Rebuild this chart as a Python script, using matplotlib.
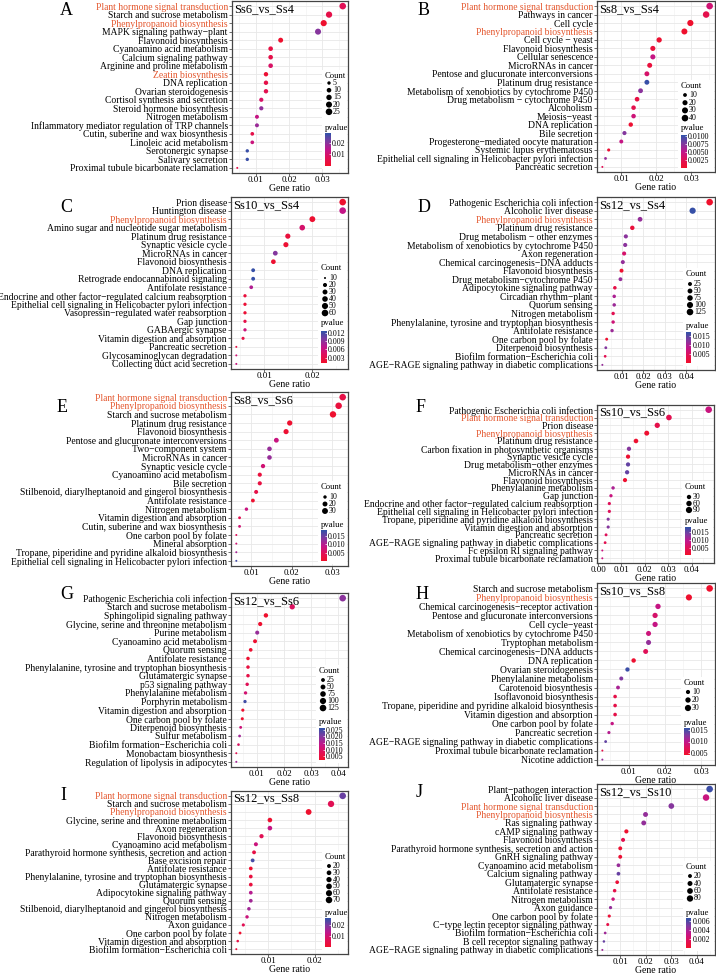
import numpy as np
import matplotlib
matplotlib.use('Agg')
import matplotlib.pyplot as plt
from matplotlib.colors import LinearSegmentedColormap

plt.rcParams['font.family'] = 'serif'
plt.rcParams['font.serif'] = ['Liberation Serif', 'DejaVu Serif']

W, H = 716, 974

# ---------------- data ----------------
A_terms = ["Plant hormone signal transduction", "Starch and sucrose metabolism", "Phenylpropanoid biosynthesis",
           "MAPK signaling pathway\u2212plant", "Flavonoid biosynthesis", "Cyanoamino acid metabolism",
           "Calcium signaling pathway", "Arginine and proline metabolism", "Zeatin biosynthesis", "DNA replication",
           "Ovarian steroidogenesis", "Cortisol synthesis and secretion", "Steroid hormone biosynthesis",
           "Nitrogen metabolism", "Inflammatory mediator regulation of TRP channels",
           "Cutin, suberine and wax biosynthesis", "Linoleic acid metabolism", "Serotonergic synapse",
           "Salivary secretion", "Proximal tubule bicarbonate reclamation"]
A_ratio = [0.0361, 0.0320, 0.0304, 0.0287, 0.0175, 0.0145, 0.0145, 0.0145, 0.0131, 0.0131,
           0.0131, 0.0117, 0.0117, 0.0104, 0.0104, 0.0090, 0.0090, 0.0075, 0.0075, 0.0045]
A_count = [25, 22, 21, 20, 12, 10, 10, 10, 9, 9, 9, 8, 8, 7, 7, 6, 6, 5, 5, 3]
A_p = [0.007, 0.005, 0.001, 0.020, 0.001, 0.004, 0.005, 0.009, 0.002, 0.005,
       0.006, 0.009, 0.019, 0.013, 0.018, 0.005, 0.012, 0.027, 0.027, 0.005]

B_terms = ["Plant hormone signal transduction", "Pathways in cancer", "Cell cycle", "Phenylpropanoid biosynthesis",
           "Cell cycle \u2212 yeast", "Flavonoid biosynthesis", "Cellular senescence", "MicroRNAs in cancer",
           "Pentose and glucuronate interconversions", "Platinum drug resistance",
           "Metabolism of xenobiotics by cytochrome P450", "Drug metabolism \u2212 cytochrome P450", "Alcoholism",
           "Meiosis\u2212yeast", "DNA replication", "Bile secretion", "Progesterone\u2212mediated oocyte maturation",
           "Systemic lupus erythematosus", "Epithelial cell signaling in Helicobacter pylori infection",
           "Pancreatic secretion"]
B_ratio = [0.0352, 0.0342, 0.0297, 0.0280, 0.0208, 0.0190, 0.0190, 0.0181, 0.0173, 0.0173,
           0.0155, 0.0145, 0.0135, 0.0135, 0.0127, 0.0109, 0.0100, 0.0064, 0.0055, 0.0046]
B_count = [38, 37, 32, 30, 22, 20, 20, 19, 18, 18, 17, 16, 15, 15, 14, 12, 11, 7, 6, 5]
B_p = [0.0040, 0.0020, 0.0003, 0.0003, 0.0005, 0.0010, 0.0048, 0.0012, 0.0035, 0.0100,
       0.0072, 0.0015, 0.0020, 0.0042, 0.0006, 0.0075, 0.0048, 0.0008, 0.0068, 0.0025]

C_terms = ["Prion disease", "Huntington disease", "Phenylpropanoid biosynthesis",
           "Amino sugar and nucleotide sugar metabolism", "Platinum drug resistance", "Synaptic vesicle cycle",
           "MicroRNAs in cancer", "Flavonoid biosynthesis", "DNA replication",
           "Retrograde endocannabinoid signaling", "Antifolate resistance",
           "Endocrine and other factor\u2212regulated calcium reabsorption",
           "Epithelial cell signaling in Helicobacter pylori infection",
           "Vasopressin\u2212regulated water reabsorption", "Gap junction", "GABAergic synapse",
           "Vitamin digestion and absorption", "Pancreatic secretion", "Glycosaminoglycan degradation",
           "Collecting duct acid secretion"]
C_ratio = [0.0263, 0.0263, 0.0200, 0.0179, 0.0149, 0.0145, 0.0123, 0.0119, 0.0077, 0.0077,
           0.0073, 0.0060, 0.0060, 0.0060, 0.0060, 0.0060, 0.0056, 0.0042, 0.0042, 0.0042]
C_count = [60, 60, 45, 41, 34, 33, 28, 27, 18, 18, 17, 14, 14, 14, 14, 14, 13, 10, 10, 10]
C_p = [0.0013, 0.0065, 0.0015, 0.0050, 0.0022, 0.0016, 0.0095, 0.0015, 0.0124, 0.0124,
       0.0075, 0.0022, 0.0018, 0.0018, 0.0030, 0.0058, 0.0028, 0.0028, 0.0055, 0.0060]

D_terms = ["Pathogenic Escherichia coli infection", "Alcoholic liver disease", "Phenylpropanoid biosynthesis",
           "Platinum drug resistance", "Drug metabolism \u2212 other enzymes",
           "Metabolism of xenobiotics by cytochrome P450", "Axon regeneration",
           "Chemical carcinogenesis\u2212DNA adducts", "Flavonoid biosynthesis",
           "Drug metabolism\u2212cytochrome P450", "Adipocytokine signaling pathway", "Circadian rhythm\u2212plant",
           "Quorum sensing", "Nitrogen metabolism", "Phenylalanine, tyrosine and tryptophan biosynthesis",
           "Antifolate resistance", "One carbon pool by folate", "Diterpenoid biosynthesis",
           "Biofilm formation\u2212Escherichia coli", "AGE\u2212RAGE signaling pathway in diabetic complications"]
D_ratio = [0.0509, 0.0430, 0.0186, 0.0150, 0.0120, 0.0117, 0.0112, 0.0106, 0.0100, 0.0095,
           0.0069, 0.0066, 0.0066, 0.0061, 0.0061, 0.0056, 0.0031, 0.0027, 0.0024, 0.0011]
D_count = [125, 106, 46, 37, 29, 29, 28, 26, 25, 23, 17, 16, 16, 15, 15, 14, 8, 7, 6, 3]
D_p = [0.0005, 0.0168, 0.0115, 0.0020, 0.0120, 0.0120, 0.0060, 0.0115, 0.0008, 0.0115,
       0.0030, 0.0100, 0.0110, 0.0040, 0.0070, 0.0110, 0.0010, 0.0125, 0.0040, 0.0115]

E_terms = ["Plant hormone signal transduction", "Phenylpropanoid biosynthesis", "Starch and sucrose metabolism",
           "Platinum drug resistance", "Flavonoid biosynthesis", "Pentose and glucuronate interconversions",
           "Two\u2212component system", "MicroRNAs in cancer", "Synaptic vesicle cycle",
           "Cyanoamino acid metabolism", "Bile secretion",
           "Stilbenoid, diarylheptanoid and gingerol biosynthesis", "Antifolate resistance",
           "Nitrogen metabolism", "Vitamin digestion and absorption", "Cutin, suberine and wax biosynthesis",
           "One carbon pool by folate", "Mineral absorption",
           "Tropane, piperidine and pyridine alkaloid biosynthesis",
           "Epithelial cell signaling in Helicobacter pylori infection"]
E_ratio = [0.0326, 0.0316, 0.0302, 0.0195, 0.0186, 0.0162, 0.0145, 0.0145, 0.0129, 0.0121,
           0.0121, 0.0112, 0.0104, 0.0088, 0.0071, 0.0071, 0.0063, 0.0063, 0.0063, 0.0063]
E_count = [39, 38, 36, 23, 22, 19, 17, 17, 15, 14, 14, 13, 12, 10, 8, 8, 7, 7, 7, 7]
E_p = [0.0030, 0.0020, 0.0008, 0.0008, 0.0010, 0.0080, 0.0120, 0.0120, 0.0070, 0.0020,
       0.0025, 0.0030, 0.0008, 0.0080, 0.0040, 0.0070, 0.0050, 0.0070, 0.0110, 0.0170]

F_terms = ["Pathogenic Escherichia coli infection", "Plant hormone signal transduction", "Prion disease",
           "Phenylpropanoid biosynthesis", "Platinum drug resistance",
           "Carbon fixation in photosynthetic organisms", "Synaptic vesicle cycle",
           "Drug metabolism\u2212other enzymes", "MicroRNAs in cancer", "Flavonoid biosynthesis",
           "Phenylalanine metabolism", "Gap junction",
           "Endocrine and other factor\u2212regulated calcium reabsorption",
           "Epithelial cell signaling in Helicobacter pylori infection",
           "Tropane, piperidine and pyridine alkaloid biosynthesis", "Vitamin digestion and absorption",
           "Pancreatic secretion", "AGE\u2212RAGE signaling pathway in diabetic complications",
           "Fc epsilon RI signaling pathway", "Proximal tubule bicarbonate reclamation"]
F_ratio = [0.0473, 0.0303, 0.0253, 0.0208, 0.0162, 0.0132, 0.0128, 0.0128, 0.0124, 0.0115,
           0.0064, 0.0055, 0.0048, 0.0048, 0.0043, 0.0043, 0.0034, 0.0030, 0.0018, 0.0018]
F_count = [105, 67, 56, 46, 36, 29, 28, 28, 28, 26, 14, 12, 11, 11, 10, 10, 8, 7, 4, 4]
F_p = [0.0080, 0.0040, 0.0035, 0.0010, 0.0010, 0.0130, 0.0012, 0.0150, 0.0150, 0.0010,
       0.0105, 0.0080, 0.0050, 0.0050, 0.0130, 0.0130, 0.0050, 0.0040, 0.0080, 0.0080]

G_terms = ["Pathogenic Escherichia coli infection", "Starch and sucrose metabolism",
           "Sphingolipid signaling pathway", "Glycine, serine and threonine metabolism", "Purine metabolism",
           "Cyanoamino acid metabolism", "Quorum sensing", "Antifolate resistance",
           "Phenylalanine, tyrosine and tryptophan biosynthesis", "Glutamatergic synapse",
           "p53 signaling pathway", "Phenylalanine metabolism", "Porphyrin metabolism",
           "Vitamin digestion and absorption", "One carbon pool by folate", "Diterpenoid biosynthesis",
           "Sulfur metabolism", "Biofilm formation\u2212Escherichia coli", "Monobactam biosynthesis",
           "Regulation of lipolysis in adipocytes"]
G_ratio = [0.0416, 0.0230, 0.0133, 0.0112, 0.0101, 0.0093, 0.0077, 0.0067, 0.0067, 0.0067,
           0.0064, 0.0058, 0.0056, 0.0048, 0.0046, 0.0040, 0.0036, 0.0032, 0.0024, 0.0024]
G_count = [119, 66, 38, 32, 29, 27, 22, 19, 19, 19, 18, 17, 16, 14, 13, 11, 10, 9, 7, 7]
G_p = [0.019, 0.009, 0.0025, 0.003, 0.018, 0.003, 0.003, 0.003, 0.005, 0.006,
       0.008, 0.011, 0.025, 0.003, 0.003, 0.012, 0.017, 0.009, 0.007, 0.017]

H_terms = ["Starch and sucrose metabolism", "Phenylpropanoid biosynthesis",
           "Chemical carcinogenesis\u2212receptor activation", "Pentose and glucuronate interconversions",
           "Cell cycle\u2212yeast", "Metabolism of xenobiotics by cytochrome P450", "Tryptophan metabolism",
           "Chemical carcinogenesis\u2212DNA adducts", "DNA replication", "Ovarian steroidogenesis",
           "Phenylalanine metabolism", "Carotenoid biosynthesis", "Isoflavonoid biosynthesis",
           "Tropane, piperidine and pyridine alkaloid biosynthesis", "Vitamin digestion and absorption",
           "One carbon pool by folate", "Pancreatic secretion",
           "AGE\u2212RAGE signaling pathway in diabetic complications",
           "Proximal tubule bicarbonate reclamation", "Nicotine addiction"]
H_ratio = [0.0323, 0.0266, 0.0181, 0.0173, 0.0173, 0.0155, 0.0155, 0.0147, 0.0114, 0.0097,
           0.0080, 0.0071, 0.0063, 0.0063, 0.0063, 0.0055, 0.0046, 0.0037, 0.0028, 0.0028]
H_count = [35, 29, 20, 19, 19, 17, 17, 16, 12, 11, 9, 8, 7, 7, 7, 6, 5, 4, 3, 3]
H_p = [0.0042, 0.0043, 0.0095, 0.0080, 0.0095, 0.0090, 0.0120, 0.0070, 0.0045, 0.0155,
       0.0128, 0.0110, 0.0060, 0.0060, 0.0060, 0.0095, 0.0105, 0.0140, 0.0060, 0.0120]

I_terms = ["Plant hormone signal transduction", "Starch and sucrose metabolism", "Phenylpropanoid biosynthesis",
           "Glycine, serine and threonine metabolism", "Axon regeneration", "Flavonoid biosynthesis",
           "Cyanoamino acid metabolism", "Parathyroid hormone synthesis, secretion and action",
           "Base excision repair", "Antifolate resistance",
           "Phenylalanine, tyrosine and tryptophan biosynthesis", "Glutamatergic synapse",
           "Adipocytokine signaling pathway", "Quorum sensing",
           "Stilbenoid, diarylheptanoid and gingerol biosynthesis", "Nitrogen metabolism", "Axon guidance",
           "One carbon pool by folate", "Vitamin digestion and absorption",
           "Biofilm formation\u2212Escherichia coli"]
I_ratio = [0.0260, 0.0235, 0.0187, 0.0104, 0.0104, 0.0086, 0.0074, 0.0070, 0.0067, 0.0063,
           0.0063, 0.0063, 0.0063, 0.0063, 0.0059, 0.0055, 0.0047, 0.0040, 0.0035, 0.0032]
I_count = [72, 65, 52, 29, 29, 24, 21, 19, 19, 18, 18, 18, 18, 18, 16, 15, 13, 11, 10, 9]
I_p = [0.021, 0.006, 0.0008, 0.001, 0.012, 0.006, 0.011, 0.004, 0.024, 0.001,
       0.003, 0.003, 0.014, 0.016, 0.016, 0.011, 0.006, 0.001, 0.004, 0.003]

J_terms = ["Plant\u2212pathogen interaction", "Alcoholic liver disease", "Plant hormone signal transduction",
           "Phenylpropanoid biosynthesis", "Ras signaling pathway", "cAMP signaling pathway",
           "Flavonoid biosynthesis", "Parathyroid hormone synthesis, secretion and action",
           "GnRH signaling pathway", "Cyanoamino acid metabolism", "Calcium signaling pathway",
           "Glutamatergic synapse", "Antifolate resistance", "Nitrogen metabolism", "Axon guidance",
           "One carbon pool by folate", "C\u2212type lectin receptor signaling pathway",
           "Biofilm formation\u2212Escherichia coli", "B cell receptor signaling pathway",
           "AGE\u2212RAGE signaling pathway in diabetic complications"]
J_ratio = [0.0450, 0.0436, 0.0300, 0.0199, 0.0192, 0.0124, 0.0111, 0.0100, 0.0100, 0.0093,
           0.0093, 0.0088, 0.0078, 0.0072, 0.0062, 0.0057, 0.0051, 0.0041, 0.0036, 0.0030]
J_count = [88, 85, 59, 39, 38, 24, 22, 20, 20, 18, 18, 17, 15, 14, 12, 11, 10, 8, 7, 6]
J_p = [0.0064, 0.0030, 0.0048, 0.0045, 0.0045, 0.0003, 0.0014, 0.0004, 0.0005, 0.0044,
       0.0055, 0.0006, 0.0012, 0.0028, 0.0045, 0.0006, 0.0012, 0.0042, 0.0055, 0.0042]

titles = ["Ss6_vs_Ss4", "Ss8_vs_Ss4", "Ss10_vs_Ss4", "Ss12_vs_Ss4", "Ss8_vs_Ss6",
          "Ss10_vs_Ss6", "Ss12_vs_Ss6", "Ss10_vs_Ss8", "Ss12_vs_Ss8", "Ss12_vs_Ss10"]
letters = list("ABCDEFGHIJ")
x_ticks = [[0.01, 0.02, 0.03], [0.01, 0.02, 0.03], [0.01, 0.02], [0.01, 0.02, 0.03, 0.04],
           [0.01, 0.02, 0.03], [0.00, 0.01, 0.02, 0.03, 0.04], [0.01, 0.02, 0.03, 0.04],
           [0.01, 0.02, 0.03], [0.01, 0.02], [0.01, 0.02, 0.03, 0.04]]
count_breaks = [[5, 10, 15, 20, 25], [10, 20, 30, 40], [10, 20, 30, 40, 50, 60], [25, 50, 75, 100, 125],
                [10, 20, 30], [30, 60, 90], [25, 50, 75, 100, 125], [10, 20, 30],
                [20, 30, 40, 50, 60, 70], [20, 40, 60, 80]]
p_limits = [(0.0003, 0.028), (0.0001, 0.0103), (0.001, 0.0127), (0.0003, 0.0172), (0.0001, 0.0183),
            (0.0004, 0.018), (0.002, 0.0265), (0.004, 0.016), (0.0001, 0.0259), (0.0001, 0.0067)]
p_ticks = [[0.01, 0.02], [0.0025, 0.0050, 0.0075, 0.0100], [0.003, 0.006, 0.009, 0.012],
           [0.005, 0.010, 0.015], [0.005, 0.010, 0.015], [0.005, 0.010, 0.015],
           [0.005, 0.010, 0.015, 0.020, 0.025], [0.005, 0.010, 0.015], [0.01, 0.02],
           [0.002, 0.004, 0.006]]
p_fmt = ['%.2f', '%.4f', '%.3f', '%.3f', '%.3f', '%.3f', '%.3f', '%.3f', '%.2f', '%.3f']
highlight = {"Plant hormone signal transduction", "Phenylpropanoid biosynthesis", "Zeatin biosynthesis"}

# ---------------- layout (pixels) ----------------
boxes = [(232, 1, 348, 173), (597, 1, 715, 172), (231, 197, 348, 369), (597, 197, 715, 370),
         (231, 392, 348, 566), (597, 405, 714, 563), (231, 593, 348, 767), (597, 583, 715, 765),
         (231, 791, 348, 954), (597, 784, 715, 955)]
letter_pos = [(60, 2), (418, 2), (60, 199), (418, 199), (57, 399), (416, 399),
              (60, 586), (416, 586), (60, 787), (416, 784)]
# count title x, count title y, first entry y, step, pvalue title y, colorbar top, colorbar bottom
legends = [(325, 76, 83, 7.2, 128, 133, 166), (681, 86, 95, 7.7, 128, 135, 168),
           (321, 268, 278, 7.0, 323, 331, 363), (686, 274, 284, 7.0, 326, 332, 363),
           (321, 487, 497, 7.0, 525, 530, 561), (685, 487, 497, 6.5, 521, 527, 555),
           (319, 671, 680, 7.0, 722, 728, 760), (684, 683, 692, 8.0, 723, 728, 755),
           (325, 857, 866, 6.8, 913, 918, 947), (686, 867, 876, 7.5, 913, 918, 948)]

cmap = LinearSegmentedColormap.from_list(
    'pv', [(0, '#F0102A'), (0.25, '#E01058'), (0.5, '#C0168C'), (0.75, '#7C3BA0'), (1, '#2F52A8')])


def rect(l, t, r, b):
    return [l / W, 1 - b / H, (r - l) / W, (b - t) / H]


def dot_size(c, cmin, cmax):
    f = np.clip((np.asarray(c, float) - cmin) / (cmax - cmin), 0, 1)
    d = 2.0 + 4.6 * np.sqrt(f)          # diameter in px
    return (d * 0.72) ** 2


fig = plt.figure(figsize=(W / 100, H / 100), dpi=100)

panels = [(A_terms, A_ratio, A_count, A_p), (B_terms, B_ratio, B_count, B_p),
          (C_terms, C_ratio, C_count, C_p), (D_terms, D_ratio, D_count, D_p),
          (E_terms, E_ratio, E_count, E_p), (F_terms, F_ratio, F_count, F_p),
          (G_terms, G_ratio, G_count, G_p), (H_terms, H_ratio, H_count, H_p),
          (I_terms, I_ratio, I_count, I_p), (J_terms, J_ratio, J_count, J_p)]

for k, (terms, ratio, count, pv) in enumerate(panels):
    l, t, r, b = boxes[k]
    ax = fig.add_axes(rect(l, t, r, b))
    n = len(terms)
    y = np.arange(n)[::-1]
    cmin, cmax = min(count), max(count)
    sc = ax.scatter(ratio, y, s=dot_size(count, cmin, cmax), c=pv, cmap=cmap,
                    vmin=p_limits[k][0], vmax=p_limits[k][1], linewidths=0, zorder=3)
    ax.set_yticks(y)
    ax.set_yticklabels(terms, fontsize=6.95)
    for lab in ax.get_yticklabels():
        if lab.get_text() in highlight:
            lab.set_color('#E4572E')
    ax.set_xticks(x_ticks[k])
    ax.set_xticklabels(['%.2f' % v for v in x_ticks[k]], fontsize=6.5)
    ax.set_xticks(np.arange(-0.005, 0.06, 0.01), minor=True)
    lo, hi = min(ratio), max(ratio)
    pad = (hi - lo) * 0.05
    ax.set_xlim(lo - pad, hi + pad)
    ax.set_ylim(-0.6, n - 0.4)
    ax.tick_params(which='major', length=2, width=0.5, pad=1, color='#333333')
    ax.tick_params(axis='x', pad=0.5)
    ax.tick_params(which='minor', length=0)
    ax.grid(which='major', color='#E8E8E8', lw=0.6)
    ax.grid(which='minor', axis='x', color='#EFEFEF', lw=0.4)
    ax.set_axisbelow(True)
    for sp in ax.spines.values():
        sp.set_color('#444444')
        sp.set_linewidth(0.9)
    ax.set_xlabel('Gene ratio', fontsize=7, labelpad=0)
    ax.text(0.02, 0.99, titles[k], transform=ax.transAxes, ha='left', va='top', fontsize=9, zorder=5)
    lx, ly = letter_pos[k]
    fig.text(lx / W, 1 - ly / H, letters[k], fontsize=13, ha='left', va='top')

    # legend block
    xt, yt, e0, step, pt, cbt, cbb = legends[k]
    lax = fig.add_axes(rect(xt - 3, yt - 6, r - 1.5, cbb + 3))
    lax.set_facecolor('white')
    lax.set_xlim(xt - 3, r - 1.5)
    lax.set_ylim(cbb + 3, yt - 6)
    lax.set_xticks([])
    lax.set_yticks([])
    for sp in lax.spines.values():
        sp.set_visible(False)
    lax.text(xt, yt, 'Count', fontsize=6.2, ha='left', va='center')
    brk = count_breaks[k]
    ys = [e0 + i * step for i in range(len(brk))]
    lax.scatter([xt + 4] * len(brk), ys, s=dot_size(brk, cmin, cmax), color='black', linewidths=0,
                clip_on=False)
    for v, yy in zip(brk, ys):
        lax.text(xt + 8, yy, str(v), fontsize=5.7, ha='left', va='center')
    lax.text(xt, pt, 'pvalue', fontsize=6.2, ha='left', va='center')
    cax = fig.add_axes(rect(xt - 0.5, cbt, xt + 5.5, cbb))
    cb = fig.colorbar(sc, cax=cax)
    cb.outline.set_visible(False)
    cb.set_ticks(p_ticks[k])
    cb.ax.set_yticklabels([p_fmt[k] % v for v in p_ticks[k]])
    cax.tick_params(length=1.5, width=0.5, color='white', direction='in', labelsize=5.7, pad=1)

fig.savefig('out.png', dpi=100)
